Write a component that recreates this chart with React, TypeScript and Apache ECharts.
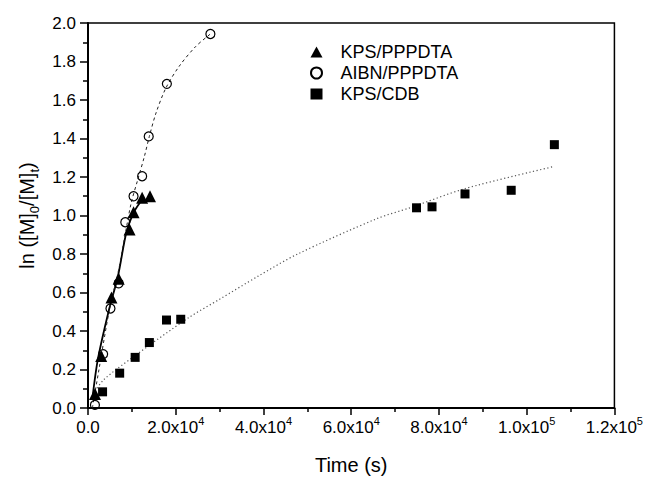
import React, { useEffect, useRef } from "react";
import * as echarts from "echarts";

// ---- data ----
const kpsPpdtaPoints: [number, number][] = [
  [1600, 0.073], [3000, 0.27], [5350, 0.574], [7000, 0.672], [9470, 0.927],
  [10380, 1.017], [12340, 1.092], [14140, 1.10],
];
const aibnPpdtaPoints: [number, number][] = [
  [1580, 0.016], [3450, 0.28], [5120, 0.517], [6990, 0.648], [8500, 0.965],
  [10380, 1.10], [12340, 1.204], [13840, 1.411], [17980, 1.684], [27900, 1.943],
];
const kpsCdbPoints: [number, number][] = [
  [3320, 0.084], [7220, 0.181], [10750, 0.263], [13990, 0.34], [17890, 0.457],
  [21140, 0.461], [74890, 1.04], [78420, 1.045], [85940, 1.112], [96470, 1.131],
  [106310, 1.368],
];
// fit curves
const kpsPpdtaFit: [number, number][] = [
  [1000, 0.05], [2256, 0.254], [4812, 0.513], [6835, 0.686], [8730, 0.91],
  [10376, 1.014], [12480, 1.087],
];
const aibnPpdtaFit: [number, number][] = [
  [1000, 0.0], [2500, 0.2], [4800, 0.5], [7000, 0.72], [8700, 0.93],
  [9858, 1.066], [11353, 1.187], [12857, 1.307], [13985, 1.411], [15496, 1.532],
  [17752, 1.662], [20752, 1.774], [24511, 1.877], [27902, 1.943],
];
const kpsCdbFit: [number, number][] = [
  [1200, 0.07], [3500, 0.145], [10000, 0.26], [23000, 0.47], [30000, 0.565],
  [38800, 0.685], [47800, 0.8], [66000, 0.985], [73400, 1.04], [86000, 1.14],
  [106300, 1.255],
];
const seriesNames = ["KPS/PPPDTA", "AIBN/PPPDTA", "KPS/CDB"];
const xMin = 0, xMax = 120000, xStep = 20000;
const yMin = 0, yMax = 2.0, yStep = 0.2;

const FONT = "Liberation Sans, Arial, Helvetica, sans-serif";

function xLabel(v: number): string {
  if (v === 0) return "0.0";
  const e = Math.floor(Math.log10(v) + 1e-9);
  const m = v / Math.pow(10, e);
  return `${m.toFixed(1)}x10{s|${e}}`;
}

export default function App() {
  const ref = useRef<HTMLDivElement>(null);
  useEffect(() => {
    if (!ref.current) return;
    const chart = echarts.init(ref.current, undefined, { renderer: "svg" });
    const axisLine = { show: true, lineStyle: { color: "#000", width: 2 } };
    const option: any = {
      animation: false,
      backgroundColor: "#fff",
      grid: {
        left: 88, right: 26, top: 23, bottom: 71,
        show: true, borderColor: "#000", borderWidth: 1.5, backgroundColor: "transparent",
      },
      legend: {
        orient: "vertical",
        left: 305,
        top: 38,
        itemWidth: 12,
        itemHeight: 11,
        itemGap: 3,
        data: seriesNames,
        textStyle: { fontSize: 18, color: "#000", fontFamily: FONT, padding: [0, 0, 0, 13] },
      },
      xAxis: {
        type: "value",
        min: xMin, max: xMax, interval: xStep,
        name: "Time (s)",
        nameLocation: "middle",
        nameGap: 47,
        nameTextStyle: { fontSize: 20, color: "#000", fontFamily: FONT },
        axisLine,
        axisTick: { show: true, length: 7, lineStyle: { color: "#000", width: 1.5 } },
        minorTick: { show: true, splitNumber: 2, length: 4, lineStyle: { color: "#000", width: 1.5 } },
        splitLine: { show: false },
        axisLabel: {
          margin: 7,
          color: "#000",
          fontSize: 17,
          lineHeight: 24,
          fontFamily: FONT,
          formatter: xLabel,
          rich: {
            s: { fontSize: 11, fontFamily: FONT, color: "#000", lineHeight: 11, verticalAlign: "top" },
          },
        },
      },
      yAxis: {
        type: "value",
        min: yMin, max: yMax, interval: yStep,
        name: "{b|ln ([M]}{sub|0}{b|/[M]}{sub|t}{b|)}",
        nameLocation: "middle",
        nameRotate: 90,
        nameGap: 46,
        nameTextStyle: {
          color: "#000",
          rich: {
            b: { fontSize: 20, fontFamily: FONT, color: "#000", lineHeight: 24, verticalAlign: "top" },
            sub: { fontSize: 13, fontFamily: FONT, color: "#000", lineHeight: 13, verticalAlign: "bottom" },
          },
        },
        axisLine,
        axisTick: { show: true, length: 8, lineStyle: { color: "#000", width: 1.5 } },
        minorTick: { show: true, splitNumber: 2, length: 5, lineStyle: { color: "#000", width: 1.5 } },
        splitLine: { show: false },
        axisLabel: {
          margin: 12,
          color: "#000",
          fontSize: 17,
          fontFamily: FONT,
          formatter: (v: number) => v.toFixed(1),
        },
      },
      series: [
        {
          name: "KPS/PPPDTA fit", type: "line", data: kpsPpdtaFit, smooth: 0.3,
          showSymbol: false, symbol: "none", z: 1,
          lineStyle: { color: "#000", width: 1.8, type: "solid" },
        },
        {
          name: "AIBN/PPPDTA fit", type: "line", data: aibnPpdtaFit, smooth: 0.3,
          showSymbol: false, symbol: "none", z: 1,
          lineStyle: { color: "#222", width: 1, type: [3, 3] },
        },
        {
          name: "KPS/CDB fit", type: "line", data: kpsCdbFit, smooth: 0.3,
          showSymbol: false, symbol: "none", z: 1,
          lineStyle: { color: "#555", width: 1.2, type: [1.2, 2.5] },
        },
        {
          name: seriesNames[0], type: "scatter", data: kpsPpdtaPoints, z: 3,
          symbol: "triangle", symbolSize: 12,
          itemStyle: { color: "#000", opacity: 1 },
        },
        {
          name: seriesNames[1], type: "scatter", data: aibnPpdtaPoints, z: 3,
          symbol: "circle", symbolSize: 9,
          itemStyle: { color: "rgba(255,255,255,0)", borderColor: "#000", borderWidth: 1.2, opacity: 1 },
        },
        {
          name: seriesNames[2], type: "scatter", data: kpsCdbPoints, z: 3,
          symbol: "rect", symbolSize: 9,
          itemStyle: { color: "#000", opacity: 1 },
        },
      ],
    };
    chart.setOption(option);
    return () => chart.dispose();
  }, []);
  return (
    <div
      ref={ref}
      style={{ position: "fixed", left: 0, top: 0, width: 646, height: 480, background: "#fff" }}
    />
  );
}
